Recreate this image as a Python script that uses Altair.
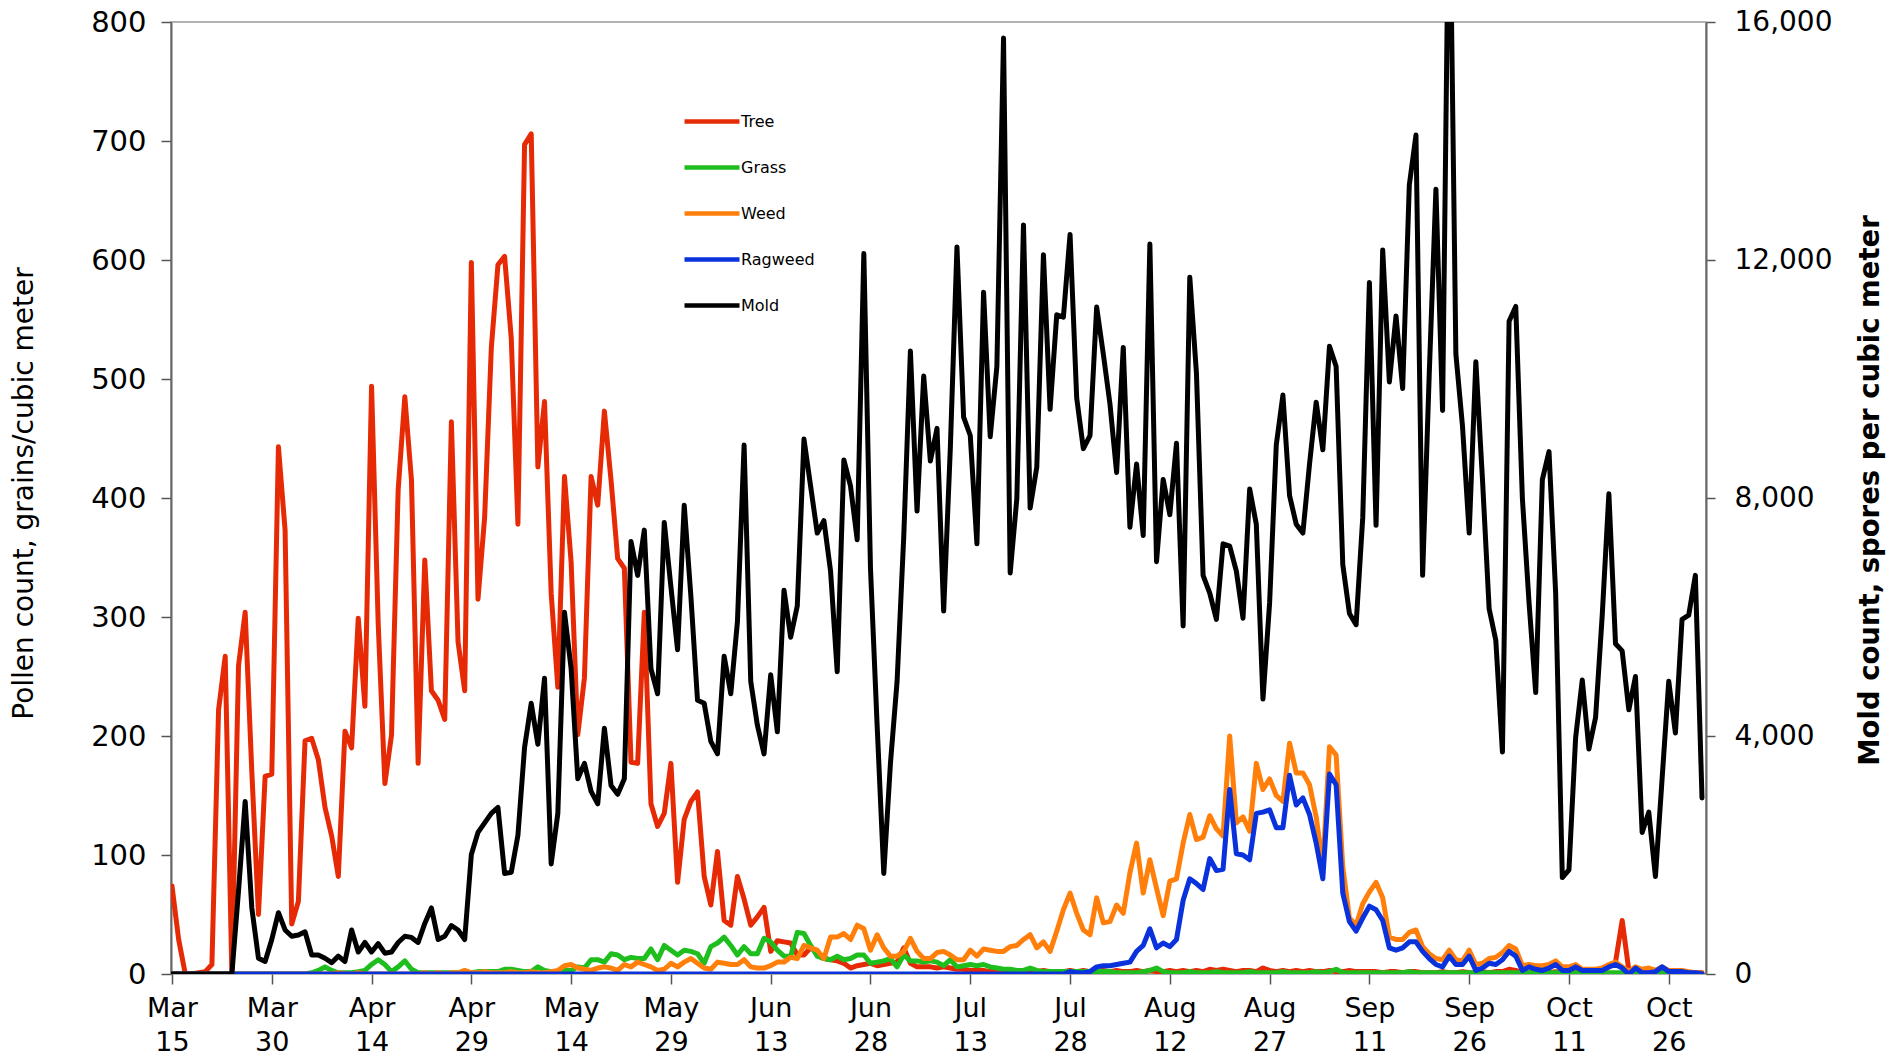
import altair as alt
import pandas as pd

# ---------------- data ----------------
series_names = ["Tree", "Grass", "Weed", "Ragweed", "Mold"]
series_colors = ["#E62A06", "#1EBE1E", "#FF7F0A", "#0A32DC", "#000000"]

tick_days = [0, 15, 30, 45, 60, 75, 90, 105, 120, 135, 150, 165, 180, 195, 210, 225]
tick_labels = ["Mar 15", "Mar 30", "Apr 14", "Apr 29", "May 14", "May 29", "Jun 13",
               "Jun 28", "Jul 13", "Jul 28", "Aug 12", "Aug 27", "Sep 11", "Sep 26",
               "Oct 11", "Oct 26"]

tree = [
    74, 29, 0, 0, 1, 2, 8, 222, 267, 0,
    259, 304, 170, 50, 166, 168, 443, 373, 42, 61,
    196, 198, 180, 140, 116, 82, 204, 190, 299, 225,
    494, 294, 160, 201, 407, 485, 415, 177, 348, 238,
    230, 214, 464, 279, 238, 598, 315, 384, 526, 596,
    603, 534, 378, 697, 706, 426, 481, 320, 241, 418,
    346, 201, 249, 418, 394, 473, 415, 349, 341, 178,
    177, 304, 143, 124, 135, 177, 77, 130, 145, 153,
    82, 58, 103, 45, 41, 82, 63, 41, 48, 56,
    19, 28, 27, 26, 16, 16, 22, 18, 13, 12,
    11, 9, 5, 7, 8, 9, 7, 8, 9, 10,
    22, 9, 6, 6, 6, 5, 6, 5, 4, 4,
    3, 3, 3, 2, 3, 2, 2, 3, 2, 2,
    2, 3, 2, 2, 2, 3, 2, 3, 2, 2,
    3, 2, 3, 2, 2, 3, 2, 3, 2, 2,
    3, 2, 3, 2, 3, 2, 4, 3, 4, 3,
    2, 3, 3, 2, 5, 3, 2, 3, 2, 3,
    2, 3, 2, 2, 3, 2, 2, 3, 2, 2,
    2, 2, 1, 2, 2, 1, 2, 2, 1, 1,
    1, 2, 1, 1, 2, 1, 1, 2, 1, 2,
    2, 4, 3, 1, 1, 2, 1, 1, 2, 1,
    1, 2, 1, 1, 2, 2, 6, 10, 45, 3,
    4, 2, 2, 2, 3, 2, 2, 1, 1, 1,
    1,
]

grass = [
    0, 0, 0, 0, 0, 0, 0, 0, 0, 0,
    0, 0, 0, 0, 0, 0, 0, 0, 0, 0,
    0, 1, 3, 6, 3, 1, 1, 1, 2, 3,
    8, 12, 8, 2, 6, 11, 4, 1, 1, 1,
    1, 1, 1, 1, 1, 1, 2, 2, 2, 2,
    4, 4, 3, 2, 2, 6, 3, 2, 2, 3,
    3, 6, 5, 12, 12, 10, 17, 16, 12, 14,
    13, 13, 21, 12, 24, 20, 16, 20, 19, 17,
    9, 23, 26, 31, 24, 16, 23, 17, 17, 30,
    27, 20, 15, 15, 35, 34, 24, 15, 13, 12,
    15, 12, 13, 16, 16, 9, 10, 11, 13, 6,
    16, 11, 11, 10, 11, 10, 7, 12, 6, 7,
    8, 7, 8, 6, 5, 4, 4, 3, 3, 5,
    3, 2, 2, 2, 2, 2, 2, 2, 2, 2,
    2, 2, 1, 1, 1, 1, 2, 3, 5, 2,
    1, 1, 1, 2, 1, 1, 1, 2, 1, 1,
    1, 1, 2, 1, 1, 1, 1, 2, 1, 1,
    1, 1, 2, 1, 2, 4, 1, 1, 1, 1,
    1, 1, 1, 1, 1, 1, 2, 1, 1, 1,
    1, 1, 1, 1, 1, 1, 1, 1, 1, 1,
    1, 1, 1, 1, 1, 1, 1, 1, 1, 1,
    1, 1, 1, 1, 1, 1, 1, 1, 1, 1,
    1, 1, 1, 1, 2, 1, 1, 1, 1, 1,
    0,
]

weed = [
    0, 0, 0, 0, 0, 0, 0, 0, 0, 0,
    0, 0, 0, 0, 0, 0, 0, 0, 0, 0,
    0, 0, 0, 0, 0, 1, 0, 0, 1, 0,
    0, 0, 0, 0, 0, 0, 0, 0, 1, 0,
    1, 0, 1, 1, 3, 1, 1, 2, 1, 1,
    1, 2, 1, 1, 2, 1, 1, 2, 3, 7,
    8, 5, 4, 3, 5, 6, 5, 3, 8, 6,
    10, 8, 6, 3, 4, 9, 6, 10, 13, 9,
    5, 4, 10, 9, 8, 8, 12, 6, 5, 5,
    7, 10, 10, 14, 13, 24, 22, 20, 13, 31,
    31, 34, 29, 41, 38, 20, 33, 22, 15, 15,
    19, 30, 19, 13, 13, 18, 19, 16, 12, 12,
    20, 15, 21, 20, 19, 19, 23, 24, 29, 33,
    22, 27, 19, 36, 54, 68, 51, 37, 33, 64,
    43, 44, 58, 51, 85, 110, 68, 96, 72, 49,
    78, 80, 110, 134, 113, 115, 133, 122, 116, 200,
    127, 132, 120, 177, 155, 164, 150, 145, 194, 169,
    169, 159, 132, 90, 191, 184, 90, 47, 41, 59,
    69, 77, 64, 31, 29, 29, 35, 37, 23, 17,
    13, 12, 20, 12, 11, 20, 8, 9, 13, 14,
    18, 24, 21, 7, 8, 7, 7, 8, 11, 6,
    6, 8, 4, 4, 4, 5, 8, 10, 6, 2,
    6, 4, 5, 3, 6, 3, 3, 3, 2, 1,
    0,
]

ragweed = [
    0, 0, 0, 0, 0, 0, 0, 0, 0, 0,
    0, 0, 0, 0, 0, 0, 0, 0, 0, 0,
    0, 0, 0, 0, 0, 0, 0, 0, 0, 0,
    0, 0, 0, 0, 0, 0, 0, 0, 0, 0,
    0, 0, 0, 0, 0, 0, 0, 0, 0, 0,
    0, 0, 0, 0, 0, 0, 0, 0, 0, 0,
    0, 0, 0, 0, 0, 0, 0, 0, 0, 0,
    0, 0, 0, 0, 0, 0, 0, 0, 0, 0,
    0, 0, 0, 0, 0, 0, 0, 0, 0, 0,
    0, 0, 0, 0, 0, 0, 0, 0, 0, 0,
    0, 0, 0, 0, 0, 0, 0, 0, 0, 0,
    0, 0, 0, 0, 0, 0, 0, 0, 0, 0,
    0, 0, 0, 0, 0, 0, 0, 0, 0, 0,
    0, 0, 0, 0, 0, 2, 1, 1, 2, 6,
    7, 7, 8, 9, 10, 19, 24, 38, 22, 26,
    23, 29, 62, 80, 76, 71, 97, 87, 88, 155,
    101, 100, 96, 135, 136, 138, 123, 123, 167, 142,
    148, 134, 110, 80, 168, 159, 68, 44, 36, 47,
    57, 54, 45, 22, 20, 22, 27, 27, 19, 13,
    8, 6, 15, 8, 8, 15, 3, 5, 9, 8,
    12, 19, 15, 3, 6, 4, 3, 5, 8, 3,
    3, 6, 3, 3, 3, 3, 6, 8, 5, 0,
    5, 1, 1, 2, 6, 2, 2, 2, 1, 1,
    0,
]

mold = [
    0, 0, 0, 0, 0, 0, 0, 0, 0, 0,
    1400, 2900, 1110, 265, 210, 580, 1030, 740, 635, 655,
    710, 320, 320, 265, 190, 300, 210, 740, 370, 530,
    370, 510, 350, 370, 530, 635, 615, 530, 850, 1110,
    580, 635, 815, 740, 580, 2010, 2380, 2540, 2700, 2800,
    1690, 1710, 2330, 3810, 4550, 3860, 4970, 1850, 2700, 6080,
    5130, 3280, 3540, 3070, 2860, 4130, 3170, 3020, 3280, 7270,
    6700, 7460, 5130, 4710, 7590, 6510, 5450, 7880, 6350, 4600,
    4550, 3910, 3700, 5340, 4710, 5920, 8890, 4920, 4180, 3700,
    5030, 4070, 6450, 5660, 6190, 8990, 8200, 7410, 7620, 6770,
    5080, 8640, 8200, 7300, 12110, 6820, 4180, 1690, 3540, 4920,
    7350, 10470, 7780, 10050, 8620, 9170, 6100, 8830, 12220, 9360,
    9050, 7230, 11460, 9030, 10210, 15730, 6740, 7990, 12590, 7830,
    8520, 12090, 9490, 11080, 11040, 12430, 9680, 8830, 9050, 11210,
    10420, 9580, 8430, 10530, 7510, 8570, 7370, 12270, 6930, 8310,
    7720, 8920, 5850, 11710, 10100, 6700, 6400, 5960, 7230, 7190,
    6770, 5980, 8150, 7560, 4620, 6240, 8890, 9730, 8040, 7560,
    7410, 8570, 9610, 8810, 10550, 10210, 6880, 6060, 5870, 7670,
    11620, 7540, 12170, 9950, 11060, 9840, 13260, 14100, 6700, 10100,
    13190, 9470, 19000, 10420, 9200, 7410, 10290, 8310, 6140, 5610,
    3730, 10970, 11220, 7990, 6240, 4730, 8310, 8780, 6400, 1620,
    1750, 3970, 4940, 3780, 4310, 6030, 8070, 5550, 5430, 4440,
    5000, 2380, 2720, 1640, 3280, 4920, 4050, 5960, 6030, 6700,
    2960,
]

values_by_series = {"Tree": tree, "Grass": grass, "Weed": weed,
                    "Ragweed": ragweed, "Mold": mold}
for k, v in values_by_series.items():
    assert len(v) == 231, (k, len(v))

rows = []
for name in series_names:
    for d, val in enumerate(values_by_series[name]):
        rows.append({"day": d, "series": name, "value": val})
df = pd.DataFrame(rows)

# ---------------- encodings ----------------
FONT = "DejaVu Sans"
lab_js = "[" + ",".join("'" + s + "'" for s in tick_labels) + "]"

x_enc = alt.X(
    "day:Q",
    scale=alt.Scale(domain=[-0.15, 230.6], nice=False, zero=False),
    axis=alt.Axis(values=tick_days, title=None, grid=False,
                  labelExpr=f"split({lab_js}[round(datum.value / 15)], ' ')",
                  labelFontSize=27, labelLineHeight=34, labelPadding=11,
                  tickSize=10, domain=False, labelFlush=False,
                  labelOverlap=False),
)

y_left = alt.Y(
    "value:Q",
    scale=alt.Scale(domain=[0, 800], nice=False),
    axis=alt.Axis(values=[0, 100, 200, 300, 400, 500, 600, 700, 800],
                  title="Pollen count, grains/cubic meter", grid=False,
                  labelFontSize=29, tickSize=10, labelPadding=15,
                  titleFontSize=28, titleFontWeight="normal",
                  titleAngle=270, titleBaseline="middle",
                  titleX=-147, titleY=471),
)

y_right = alt.Y(
    "value:Q",
    scale=alt.Scale(domain=[0, 16000], nice=False),
    axis=alt.Axis(orient="right", values=[0, 4000, 8000, 12000, 16000],
                  labelExpr="format(datum.value, ',')",
                  title="Mold count, spores per cubic meter",
                  grid=False, labelFontSize=28, tickSize=9, labelPadding=19,
                  titleFontSize=27.5, titleFontWeight="bold",
                  titleAngle=270, titleBaseline="middle",
                  titleX=164, titleY=468),
)

legend = alt.Legend(title=None, orient="none", legendX=548, legendY=89,
                    symbolType="M-5.625,0H1.25", symbolSize=256,
                    symbolStrokeWidth=4.5, labelFontSize=16, labelFont=FONT,
                    labelOffset=1, rowPadding=26, padding=0)

color_enc = alt.Color("series:N",
                      scale=alt.Scale(domain=series_names, range=series_colors),
                      legend=legend)

base = alt.Chart(df)


def series_line(name, y):
    return (base.transform_filter(alt.datum.series == name)
            .mark_line(strokeWidth=5, strokeJoin="round", strokeCap="round",
                       clip=True)
            .encode(x=x_enc, y=y, color=color_enc))


pollen = alt.layer(*[series_line(n, y_left) for n in ["Tree", "Grass", "Weed", "Ragweed"]])
mold_layer = series_line("Mold", y_right)

chart = (
    alt.layer(pollen, mold_layer)
    .resolve_scale(y="independent")
    .properties(width=1535, height=952,
                autosize=alt.AutoSizeParams(type="none"),
                padding={"left": 163, "top": 14, "right": 180, "bottom": 82})
    .configure_axis(labelFont=FONT, titleFont=FONT, labelColor="#000000",
                    titleColor="#000000", tickColor="#555555",
                    domainColor="#666666", domainWidth=2, tickWidth=1.5)
    .configure_view(stroke="#999999", strokeWidth=1.5)
)

chart.save("out.html", embed_options={"renderer": "svg", "actions": False})
